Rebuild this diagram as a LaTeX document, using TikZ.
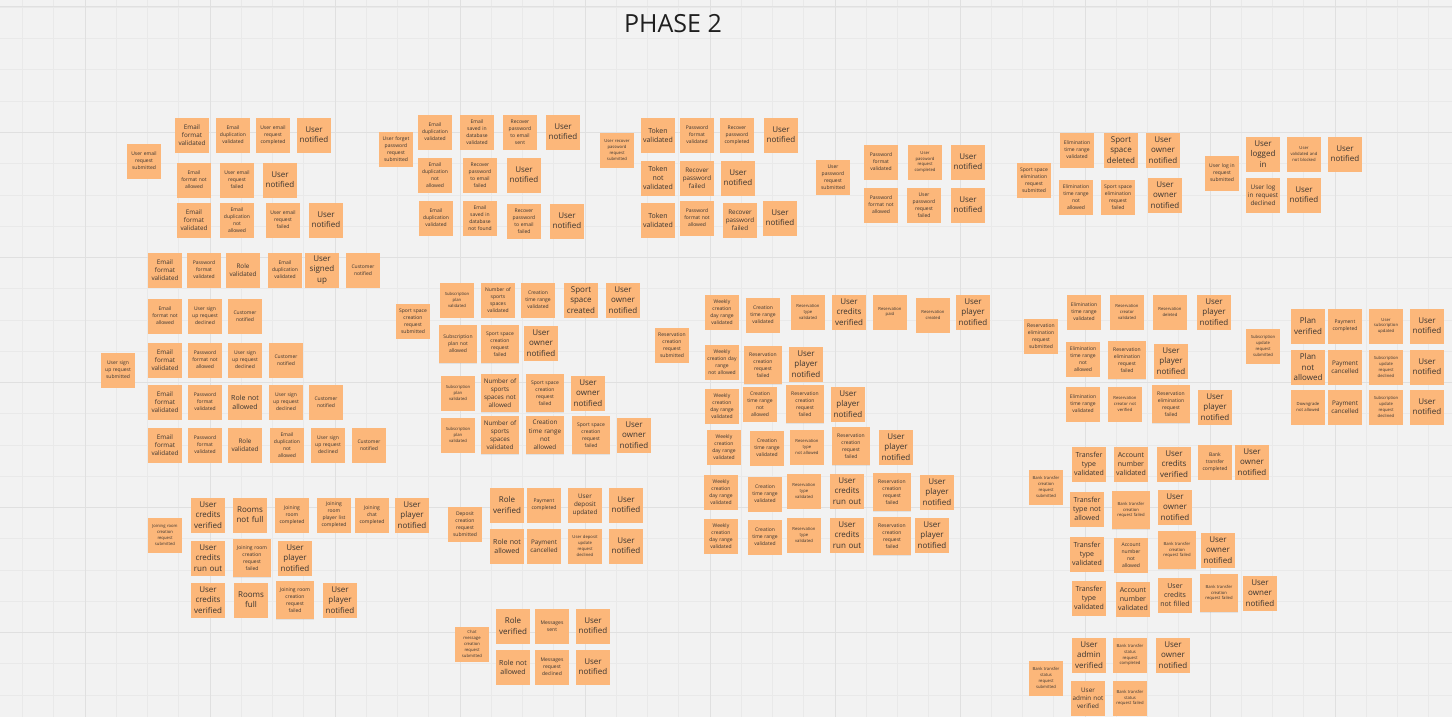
\documentclass[tikz,border=0pt]{standalone}
\usepackage{fontspec}
\setmainfont{Open Sans}
\usetikzlibrary{shadows}

\definecolor{boardbg}{RGB}{242,242,242}
\definecolor{gridminor}{RGB}{233,233,233}
\definecolor{gridmajor}{RGB}{224,224,224}
\definecolor{stickyfill}{RGB}{252,183,122}
\definecolor{stickytext}{RGB}{58,52,48}

\tikzset{
  sticky/.style={rectangle, fill=stickyfill, minimum width=34pt, minimum height=35pt,
    text width=31pt, inner sep=1.5pt, align=center, text=stickytext,
    drop shadow={shadow xshift=0pt, shadow yshift=-0.8pt, opacity=0.15}},
  sbig/.style={sticky, font=\fontsize{8}{10.3}\selectfont},
  smbg/.style={sticky, font=\fontsize{7}{9}\selectfont},
  smid/.style={sticky, font=\fontsize{6.3}{8.2}\selectfont},
  ssml/.style={sticky, font=\fontsize{5}{7}\selectfont},
  stny/.style={sticky, font=\fontsize{4.2}{5.8}\selectfont},
  wide/.style={minimum width=38pt, minimum height=38pt, text width=35pt},
  gminor/.style={draw=gridminor, line width=0.6pt},
  gmajor/.style={draw=gridmajor, line width=1pt}
}

% one sticky note: style, name, x, y, text
\newcommand\stick[5]{\node[#1] (#2) at (#3,#4) {#5};}

\begin{document}
\begin{tikzpicture}[x=1pt, y=-1pt]
\useasboundingbox (0,0) rectangle (1452,717);

% board background with its grid
\fill[boardbg] (0,0) rectangle (1452,717);
\foreach \i in {0,...,46} \draw[gminor] ({22.5+31.25*\i},0) -- ({22.5+31.25*\i},717);
\foreach \j in {0,...,22} \draw[gminor] (0,{7.3+31.25*\j}) -- (1452,{7.3+31.25*\j});
\foreach \x in {85,210,...,1335} \draw[gmajor] (\x,0) -- (\x,717);
\foreach \y in {7,132,...,632} \draw[gmajor] (0,\y) -- (1452,\y);

\node[font=\fontsize{25}{30}\selectfont, text=black!88] (title) at (673,24) {PHASE 2};

% user email update
\stick{ssml}{a0}{144}{161}{User email\\request\\submitted}
\stick{smid}{a1}{192}{135}{Email\\format\\validated}
\stick{ssml}{a2}{233}{135}{Email\\duplication\\validated}
\stick{ssml}{a3}{273}{135}{User email\\request\\completed}
\stick{sbig}{a4}{314}{135}{User\\notified}
\stick{ssml}{a5}{194}{180}{Email\\format not\\allowed}
\stick{ssml}{a6}{237}{180}{User email\\request\\failed}
\stick{sbig}{a7}{280}{180}{User\\notified}
\stick{smid}{a8}{194}{220}{Email\\format\\validated}
\stick{ssml}{a9}{237}{220}{Email\\duplication\\not\\allowed}
\stick{ssml}{a10}{283}{220}{User email\\request\\failed}
\stick{sbig}{a11}{326}{220}{User\\notified}

% forgotten password
\stick{ssml}{b0}{396}{149}{User forget\\password\\request\\submitted}
\stick{ssml}{b1}{435}{132}{Email\\duplication\\validated}
\stick{ssml}{b2}{477}{132}{Email\\saved in\\database\\validated}
\stick{ssml}{b3}{520}{132}{Recover\\password\\to email\\sent}
\stick{sbig}{b4}{563}{132}{User\\notified}
\stick{ssml}{b5}{435}{175}{Email\\duplication\\not\\allowed}
\stick{ssml}{b6}{480}{175}{Recover\\password\\to email\\failed}
\stick{sbig}{b7}{524}{175}{User\\notified}
\stick{ssml}{b8}{436}{218}{Email\\duplication\\validated}
\stick{ssml}{b9}{480}{218}{Email\\saved in\\database\\not found}
\stick{ssml}{b10}{524}{221}{Recover\\password\\to email\\failed}
\stick{sbig}{b11}{567}{221}{User\\notified}

% recover password
\stick{stny}{c0}{617}{150}{User recover\\password\\request\\submitted}
\stick{smbg}{c1}{658}{135}{Token\\validated}
\stick{ssml}{c2}{697}{135}{Password\\format\\validated}
\stick{ssml}{c3}{737}{135}{Recover\\password\\completed}
\stick{sbig}{c4}{781}{135}{User\\notified}
\stick{smbg}{c5}{658}{178}{Token\\not\\validated}
\stick{smid}{c6}{697}{178}{Recover\\password\\failed}
\stick{sbig}{c7}{738}{178}{User\\notified}
\stick{smbg}{c8}{658}{220}{Token\\validated}
\stick{ssml}{c9}{697}{218}{Password\\format not\\allowed}
\stick{smid}{c10}{740}{220}{Recover\\password\\failed}
\stick{sbig}{c11}{780}{218}{User\\notified}

% user password update
\stick{ssml}{d0}{833}{177}{User\\password\\request\\submitted}
\stick{ssml}{d1}{881}{162}{Password\\format\\validated}
\stick{stny}{d2}{925}{162}{User\\password\\request\\completed}
\stick{sbig}{d3}{968}{162}{User\\notified}
\stick{ssml}{d4}{881}{205}{Password\\format not\\allowed}
\stick{ssml}{d5}{924}{205}{User\\password\\request\\failed}
\stick{sbig}{d6}{968}{205}{User\\notified}

% sport space elimination
\stick{ssml}{e0}{1034}{180}{Sport space\\elimination\\request\\submitted}
\stick{ssml}{e1}{1077}{150}{Elimination\\time range\\validated}
\stick{sbig}{e2}{1121}{150}{Sport\\space\\deleted}
\stick{sbig}{e3}{1163}{150}{User\\owner\\notified}
\stick{ssml}{e4}{1076}{197}{Elimination\\time range\\not\\allowed}
\stick{ssml}{e5}{1118}{197}{Sport space\\elimination\\request\\failed}
\stick{sbig}{e6}{1165}{195}{User\\owner\\notified}

% log in
\stick{ssml}{f0}{1222}{173}{User log in\\request\\submitted}
\stick{sbig}{f1}{1263}{154}{User\\logged\\in}
\stick{stny}{f2}{1304}{154}{User\\validated and\\not blocked}
\stick{sbig}{f3}{1345}{154}{User\\notified}
\stick{smid}{f4}{1263}{195}{User log\\in request\\declined}
\stick{sbig}{f5}{1304}{195}{User\\notified}

% sign up
\stick{ssml}{g0}{118}{370}{User sign\\up request\\submitted}
\stick{smid}{g1}{165}{270}{Email\\format\\validated}
\stick{ssml}{g2}{204}{270}{Password\\format\\validated}
\stick{smid}{g3}{243}{270}{Role\\validated}
\stick{ssml}{g4}{285}{270}{Email\\duplication\\validated}
\stick{sbig}{g5}{322}{270}{User\\signed\\up}
\stick{ssml}{g6}{363}{270}{Customer\\notified}
\stick{ssml}{g7}{165}{316}{Email\\format not\\allowed}
\stick{ssml}{g8}{205}{316}{User sign\\up request\\declined}
\stick{ssml}{g9}{245}{316}{Customer\\notified}
\stick{smid}{g10}{165}{360}{Email\\format\\validated}
\stick{ssml}{g11}{205}{360}{Password\\format not\\allowed}
\stick{ssml}{g12}{245}{360}{User sign\\up request\\declined}
\stick{ssml}{g13}{286}{360}{Customer\\notified}
\stick{smid}{g14}{165}{402}{Email\\format\\validated}
\stick{ssml}{g15}{205}{402}{Password\\format\\validated}
\stick{smbg}{g16}{245}{402}{Role not\\allowed}
\stick{ssml}{g17}{286}{402}{User sign\\up request\\declined}
\stick{ssml}{g18}{326}{402}{Customer\\notified}
\stick{smid}{g19}{165}{445}{Email\\format\\validated}
\stick{ssml}{g20}{205}{445}{Password\\format\\validated}
\stick{smid}{g21}{245}{445}{Role\\validated}
\stick{ssml}{g22}{287}{445}{Email\\duplication\\not\\allowed}
\stick{ssml}{g23}{328}{445}{User sign\\up request\\declined}
\stick{ssml}{g24}{369}{445}{Customer\\notified}

% sport space creation
\stick{ssml}{h0}{413}{321}{Sport space\\creation\\request\\submitted}
\stick{stny}{h1}{457}{300}{Subscription\\plan\\validated}
\stick{ssml}{h2}{498}{300}{Number of\\sports\\spaces\\validated}
\stick{ssml}{h3}{538}{300}{Creation\\time range\\validated}
\stick{sbig}{h4}{581}{300}{Sport\\space\\created}
\stick{sbig}{h5}{623}{300}{User\\owner\\notified}
\stick{ssml,wide}{h6}{458}{344}{Subscription\\plan not\\allowed}
\stick{ssml,wide}{h7}{500}{344}{Sport space\\creation\\request\\failed}
\stick{sbig}{h8}{541}{343}{User\\owner\\notified}
\stick{stny}{h9}{458}{393}{Subscription\\plan\\validated}
\stick{smid,wide}{h10}{500}{393}{Number of\\sports\\spaces not\\allowed}
\stick{ssml,wide}{h11}{545}{393}{Sport space\\creation\\request\\failed}
\stick{sbig}{h12}{588}{393}{User\\owner\\notified}
\stick{stny}{h13}{458}{435}{Subscription\\plan\\validated}
\stick{smid,wide}{h14}{500}{435}{Number of\\sports\\spaces\\validated}
\stick{smid,wide}{h15}{545}{435}{Creation\\time range\\not\\allowed}
\stick{ssml,wide}{h16}{591}{435}{Sport space\\creation\\request\\failed}
\stick{sbig}{h17}{634}{435}{User\\owner\\notified}

% reservation creation
\stick{ssml}{i0}{672}{345}{Reservation\\creation\\request\\submitted}
\stick{ssml}{i1}{722}{312}{Weekly\\creation\\day range\\validated}
\stick{ssml}{i2}{763}{315}{Creation\\time range\\validated}
\stick{stny}{i3}{808}{312}{Reservation\\type\\validated}
\stick{sbig}{i4}{849}{312}{User\\credits\\verified}
\stick{stny}{i5}{890}{312}{Reservation\\paid}
\stick{stny}{i6}{933}{315}{Reservation\\created}
\stick{sbig}{i7}{973}{312}{User\\player\\notified}
\stick{ssml}{i8}{722}{362}{Weekly\\creation day\\range\\not allowed}
\stick{ssml,wide}{i9}{763}{365}{Reservation\\creation\\request\\failed}
\stick{sbig}{i10}{806}{364}{User\\player\\notified}
\stick{ssml}{i11}{722}{406}{Weekly\\creation\\day range\\validated}
\stick{ssml}{i12}{760}{404}{Creation\\time range\\not\\allowed}
\stick{ssml,wide}{i13}{805}{404}{Reservation\\creation\\request\\failed}
\stick{sbig}{i14}{848}{404}{User\\player\\notified}
\stick{ssml}{i15}{724}{447}{Weekly\\creation\\day range\\validated}
\stick{ssml}{i16}{767}{448}{Creation\\time range\\validated}
\stick{stny}{i17}{807}{447}{Reservation\\type\\not allowed}
\stick{ssml,wide}{i18}{851}{446}{Reservation\\creation\\request\\failed}
\stick{sbig}{i19}{896}{447}{User\\player\\notified}
\stick{ssml}{i20}{721}{492}{Weekly\\creation\\day range\\validated}
\stick{ssml}{i21}{765}{494}{Creation\\time range\\validated}
\stick{stny}{i22}{804}{491}{Reservation\\type\\validated}
\stick{sbig}{i23}{847}{491}{User\\credits\\run out}
\stick{ssml,wide}{i24}{892}{492}{Reservation\\creation\\request\\failed}
\stick{sbig}{i25}{937}{492}{User\\player\\notified}
\stick{ssml}{i26}{721}{536}{Weekly\\creation\\day range\\validated}
\stick{ssml}{i27}{765}{537}{Creation\\time range\\validated}
\stick{stny}{i28}{804}{535}{Reservation\\type\\validated}
\stick{sbig}{i29}{847}{535}{User\\credits\\run out}
\stick{ssml,wide}{i30}{892}{536}{Reservation\\creation\\request\\failed}
\stick{sbig}{i31}{932}{535}{User\\player\\notified}

% reservation elimination
\stick{ssml}{j0}{1041}{336}{Reservation\\elimination\\request\\submitted}
\stick{ssml}{j1}{1084}{312}{Elimination\\time range\\validated}
\stick{stny}{j2}{1127}{312}{Reservation\\creator\\validated}
\stick{stny}{j3}{1170}{312}{Reservation\\deleted}
\stick{sbig}{j4}{1214}{312}{User\\player\\notified}
\stick{ssml}{j5}{1083}{359}{Elimination\\time range\\not\\allowed}
\stick{ssml,wide}{j6}{1127}{360}{Reservation\\elimination\\request\\failed}
\stick{sbig}{j7}{1171}{361}{User\\player\\notified}
\stick{ssml}{j8}{1083}{404}{Elimination\\time range\\validated}
\stick{stny}{j9}{1125}{404}{Reservation\\creator not\\verified}
\stick{ssml,wide}{j10}{1171}{404}{Reservation\\elimination\\request\\failed}
\stick{sbig}{j11}{1215}{407}{User\\player\\notified}

% subscription update
\stick{stny}{k0}{1263}{346}{Subscription\\update\\request\\submitted}
\stick{sbig}{k1}{1308}{326}{Plan\\verified}
\stick{ssml}{k2}{1345}{326}{Payment\\completed}
\stick{stny}{k3}{1386}{326}{User\\subscription\\updated}
\stick{sbig}{k4}{1427}{326}{User\\notified}
\stick{sbig}{k5}{1308}{367}{Plan not\\allowed}
\stick{smid}{k6}{1345}{367}{Payment\\cancelled}
\stick{stny}{k7}{1386}{367}{Subscription\\update\\request\\declined}
\stick{sbig}{k8}{1427}{367}{User\\notified}
\stick{stny}{k9}{1308}{407}{Downgrade\\not allowed}
\stick{smid}{k10}{1345}{407}{Payment\\cancelled}
\stick{stny}{k11}{1386}{407}{Subscription\\update\\request\\declined}
\stick{sbig}{k12}{1427}{407}{User\\notified}

% bank transfer creation
\stick{stny}{l0}{1046}{487}{Bank transfer\\creation\\request\\submitted}
\stick{smbg}{l1}{1089}{464}{Transfer\\type\\validated}
\stick{smbg}{l2}{1131}{464}{Account\\number\\validated}
\stick{sbig}{l3}{1174}{464}{User\\credits\\verified}
\stick{ssml}{l4}{1215}{462}{Bank\\transfer\\completed}
\stick{sbig}{l5}{1252}{462}{User\\owner\\notified}
\stick{smbg}{l6}{1087}{509}{Transfer\\type not\\allowed}
\stick{stny,wide}{l7}{1131}{510}{Bank transfer\\creation\\request failed}
\stick{sbig}{l8}{1175}{507}{User\\owner\\notified}
\stick{smbg}{l9}{1087}{554}{Transfer\\type\\validated}
\stick{ssml}{l10}{1131}{555}{Account\\number\\not\\allowed}
\stick{stny,wide}{l11}{1177}{550}{Bank transfer\\creation\\request failed}
\stick{sbig}{l12}{1218}{550}{User\\owner\\notified}
\stick{smbg}{l13}{1089}{598}{Transfer\\type\\validated}
\stick{smbg}{l14}{1133}{599}{Account\\number\\validated}
\stick{smbg}{l15}{1175}{595}{User\\credits\\not filled}
\stick{stny,wide}{l16}{1219}{593}{Bank transfer\\creation\\request failed}
\stick{sbig}{l17}{1260}{593}{User\\owner\\notified}

% bank transfer status
\stick{stny}{l18}{1046}{678}{Bank transfer\\status\\request\\submitted}
\stick{sbig}{l19}{1089}{655}{User\\admin\\verified}
\stick{stny}{l20}{1130}{655}{Bank transfer\\status\\request\\completed}
\stick{sbig}{l21}{1173}{655}{User\\owner\\notified}
\stick{smid}{l22}{1088}{698}{User\\admin not\\verified}
\stick{stny}{l23}{1130}{698}{Bank transfer\\status\\request failed}

% joining a room
\stick{stny}{m0}{165}{535}{Joining room\\creation\\request\\submitted}
\stick{sbig}{m1}{208}{515}{User\\credits\\verified}
\stick{sbig}{m2}{250}{515}{Rooms\\not full}
\stick{ssml}{m3}{292}{515}{Joining\\room\\completed}
\stick{ssml}{m4}{334}{515}{Joining\\room\\player list\\completed}
\stick{ssml}{m5}{372}{515}{Joining\\chat\\completed}
\stick{sbig}{m6}{412}{515}{User\\player\\notified}
\stick{sbig}{m7}{208}{558}{User\\credits\\run out}
\stick{ssml,wide}{m8}{252}{558}{Joining room\\creation\\request\\failed}
\stick{sbig}{m9}{295}{558}{User\\player\\notified}
\stick{sbig}{m10}{208}{600}{User\\credits\\verified}
\stick{sbig}{m11}{251}{600}{Rooms\\full}
\stick{ssml,wide}{m12}{295}{600}{Joining room\\creation\\request\\failed}
\stick{sbig}{m13}{340}{600}{User\\player\\notified}

% deposit
\stick{ssml}{n0}{465}{524}{Deposit\\creation\\request\\submitted}
\stick{sbig}{n1}{507}{505}{Role\\verified}
\stick{ssml}{n2}{544}{505}{Payment\\completed}
\stick{smid}{n3}{585}{505}{User\\deposit\\updated}
\stick{sbig}{n4}{626}{505}{User\\notified}
\stick{smbg}{n5}{507}{546}{Role not\\allowed}
\stick{smid}{n6}{544}{546}{Payment\\cancelled}
\stick{stny}{n7}{585}{546}{User deposit\\update\\request\\declined}
\stick{sbig}{n8}{626}{546}{User\\notified}

% chat messages
\stick{stny}{o0}{472}{644}{Chat\\message\\creation\\request\\submitted}
\stick{sbig}{o1}{513}{626}{Role\\verified}
\stick{ssml}{o2}{552}{626}{Messages\\sent}
\stick{sbig}{o3}{593}{626}{User\\notified}
\stick{smbg}{o4}{513}{667}{Role not\\allowed}
\stick{ssml}{o5}{552}{667}{Messages\\request\\declined}
\stick{sbig}{o6}{593}{667}{User\\notified}
\end{tikzpicture}
\end{document}
